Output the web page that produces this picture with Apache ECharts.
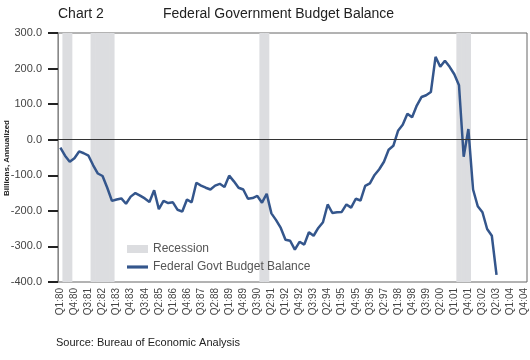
<!DOCTYPE html>
<html>
<head>
<meta charset="utf-8">
<script src="https://cdn.jsdelivr.net/npm/echarts@6/dist/echarts.min.js"></script>
<style>html,body{margin:0;padding:0;background:#fff}#c{width:530px;height:360px}</style>
</head>
<body>
<div id="c"></div>
<script>
const years = ['80','81','82','83','84','85','86','87','88','89','90','91','92','93','94','95','96','97','98','99','00','01','02','03','04'];
const categories = [];
years.forEach(y => { for (let q = 1; q <= 4; q++) categories.push('Q' + q + ':' + y); });

const budgetBalance = [
  -22, -45, -62, -52, -33, -38, -45, -72, -95, -102,
  -135, -172, -168, -165, -180, -160, -150, -157, -165, -175,
  -142, -195, -172, -178, -176, -197, -202, -168, -176, -121,
  -129, -135, -140, -129, -124, -133, -101, -117, -135, -140,
  -166, -164, -158, -177, -152, -207, -226, -248, -281, -284,
  -309, -287, -295, -260, -270, -248, -232, -182, -206, -204,
  -203, -182, -191, -166, -171, -130, -123, -99, -83, -62,
  -28, -17, 25, 42, 73, 63, 96, 120, 125, 134,
  233, 205, 222, 205, 184, 153, -48, 30, -140, -187,
  -204, -251, -270, -380
];

const recessionQuarters = ['Q2:80','Q3:80','Q4:81','Q1:82','Q2:82','Q3:82','Q4:82','Q4:90','Q1:91','Q2:01','Q3:01','Q4:01'];
const recession = categories.map(c => recessionQuarters.includes(c) ? 1 : null);

const yTicks = [-400, -300, -200, -100, 0, 100, 200, 300];

const font = 'Liberation Sans, Arial, sans-serif';
const lineColor = '#34568c';
const chart = echarts.init(document.getElementById('c'));
chart.setOption({
  animation: false,
  textStyle: { fontFamily: font },
  title: [
    { text: 'Chart 2', left: 53, top: 2, textStyle: { fontSize: 14, fontWeight: 'normal', color: '#222', fontFamily: font } },
    { text: 'Federal Government Budget Balance', left: 158, top: 2, textStyle: { fontSize: 14, fontWeight: 'normal', color: '#222', fontFamily: font } },
    { text: 'Source: Bureau of Economic Analysis', left: 51, top: 332, textStyle: { fontSize: 11, fontWeight: 'normal', color: '#222', fontFamily: font } }
  ],
  graphic: [
    { type: 'text', x: 3, y: 158, rotation: Math.PI / 2,
      style: { text: 'Billions, Annualized', font: 'bold 8px ' + font, fill: '#222', align: 'center', verticalAlign: 'top' } }
  ],
  legend: {
    orient: 'vertical', left: 122, top: 238, itemGap: 6, itemWidth: 21, itemHeight: 8,
    textStyle: { fontSize: 12, color: '#555', fontFamily: font },
    data: [
      { name: 'Recession', icon: 'rect' },
      { name: 'Federal Govt Budget Balance', icon: 'path://M0,0 L20,0 L20,3 L0,3 Z', itemStyle: { color: lineColor } }
    ]
  },
  grid: { left: 58, right: 3, top: 33, bottom: 78, containLabel: false, outerBoundsMode: 'none', show: true, borderColor: '#666', borderWidth: 1 },
  xAxis: {
    type: 'category', data: categories, boundaryGap: true,
    axisLine: { lineStyle: { color: '#222', width: 1 } },
    axisTick: { interval: 0, length: 8, lineStyle: { color: '#333', width: 1 } },
    axisLabel: { interval: 2, rotate: 90, fontSize: 10, color: '#444', margin: 6, fontFamily: font }
  },
  yAxis: [
    {
      type: 'value', min: -400, max: 300, interval: 100,
      axisLine: { show: true, lineStyle: { color: '#888', width: 1 } },
      axisTick: { show: true, length: 10, lineStyle: { color: '#222', width: 2 } },
      axisLabel: { formatter: v => v.toFixed(1), fontSize: 11, color: '#444', margin: 16, fontFamily: font },
      splitLine: { show: false }
    },
    { type: 'value', min: 0, max: 1, show: false }
  ],
  series: [
    {
      name: 'Recession', type: 'bar', yAxisIndex: 1, data: recession,
      barWidth: '112%', barCategoryGap: '0%', itemStyle: { color: '#dcdde0' }, silent: true, z: 1
    },
    {
      name: 'Federal Govt Budget Balance', type: 'line', data: budgetBalance,
      symbol: 'none', lineStyle: { color: lineColor, width: 2.5 }, itemStyle: { color: lineColor }, z: 3,
      markLine: {
        silent: true, symbol: 'none', label: { show: false },
        lineStyle: { color: '#333', width: 1, type: 'solid' },
        data: [{ yAxis: 0 }]
      }
    }
  ]
});
</script>
</body>
</html>
